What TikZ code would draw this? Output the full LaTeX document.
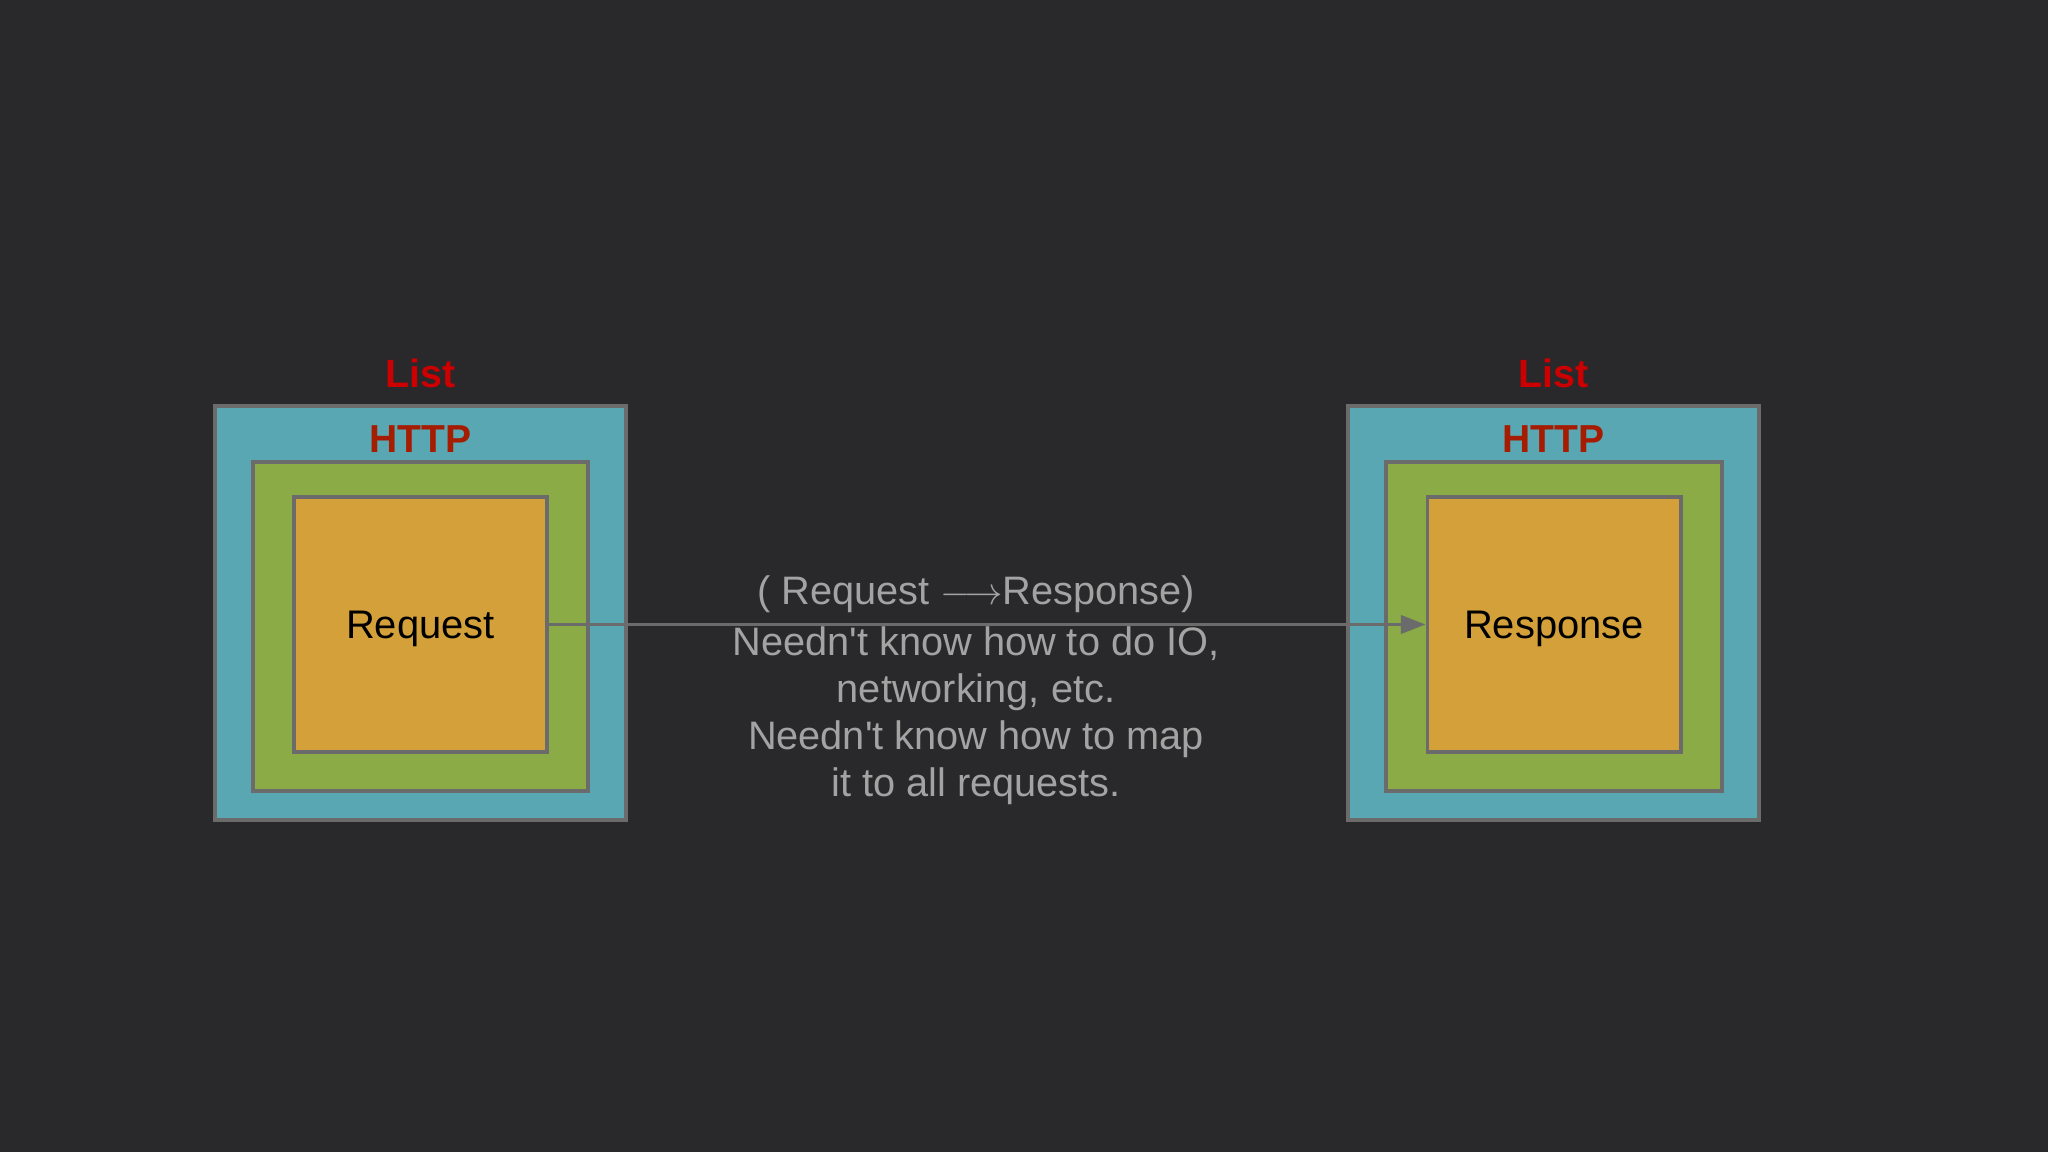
\documentclass[tikz,border=0pt]{standalone}
\usepackage{fontspec}
\setmainfont{Liberation Sans}
\usetikzlibrary{arrows.meta}
\definecolor{bgdark}{HTML}{29282A}
\definecolor{boxline}{HTML}{6B6B6B}
\definecolor{layerteal}{HTML}{59A7B3}
\definecolor{layergreen}{HTML}{8AAB45}
\definecolor{layerorange}{HTML}{D4A03A}
\definecolor{listred}{HTML}{CC0000}
\definecolor{httpred}{HTML}{A61C00}
\definecolor{notegray}{HTML}{A3A3A3}
\begin{document}
\begin{tikzpicture}[x=0.01cm,y=-0.01cm]
        \tikzstyle{layer}=[rectangle,draw=boxline,line width=1.1pt,inner sep=0pt]
        \tikzstyle{listlayer}=[layer,fill=layerteal,minimum width=4.11cm,minimum height=4.14cm]
        \tikzstyle{httplayer}=[layer,fill=layergreen,minimum width=3.35cm,minimum height=3.29cm]
        \tikzstyle{msglayer}=[layer,fill=layerorange,minimum width=2.53cm,minimum height=2.55cm,text depth=0pt,font=\fontsize{11.35}{13}\selectfont]
        \tikzstyle{listlabel}=[text=listred,font=\fontsize{11.2}{13}\selectfont\bfseries]
        \tikzstyle{httplabel}=[text=httpred,font=\fontsize{11.1}{13}\selectfont\bfseries]
        \tikzstyle{note}=[text=notegray,align=center,font=\fontsize{11.3}{13.4}\selectfont]
        \tikzstyle{edge}=[draw=boxline,line width=0.85pt,-{Triangle[length=7pt,width=5.2pt]}]
        \fill[bgdark] (0,0) rectangle (2048,1152);
        \useasboundingbox (0,0) rectangle (2048,1152);
       \begin{scope}
         \node [listlayer] (list1) at (420.5,613) {};
         \node [httplayer] (http1) at (420.5,626.5) {};
         \node [msglayer] (req) at (420.5,624.5) {Request};
         \node [listlabel] (listlbl1) at (420.5,373) {List};
         \node [httplabel] (httplbl1) at (420.5,439) {HTTP};
        \end{scope}
       \begin{scope}
         \node [listlayer] (list2) at (1553.5,613) {};
         \node [httplayer] (http2) at (1554,626.5) {};
         \node [msglayer] (resp) at (1554,624.5) {Response};
         \node [listlabel] (listlbl2) at (1553.5,373) {List};
         \node [httplabel] (httplbl2) at (1553.5,439) {HTTP};
        \end{scope}
         \path[edge] (req) -- (resp);
         \node [note] (sig) at (976,594) {( Request $\longrightarrow$Response)};
         \node [note] (remark) at (976,716) {Needn\textquotesingle t know how to do IO,\\networking, etc.\\Needn\textquotesingle t know how to map\\it to all requests.};
      \end{tikzpicture}
\end{document}
